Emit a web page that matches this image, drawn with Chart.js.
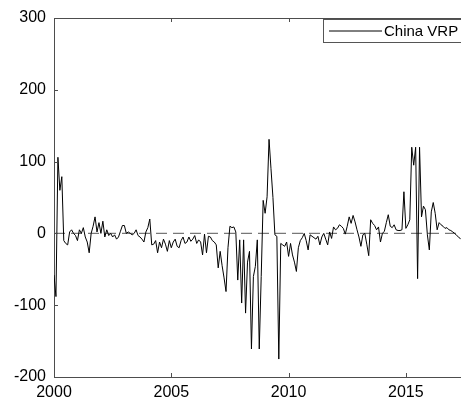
<!DOCTYPE html>
<html>
<head>
<meta charset="utf-8">
<script src="https://cdn.jsdelivr.net/npm/chart.js@4.4.1/dist/chart.umd.min.js"></script>
<style>
  html, body { margin: 0; padding: 0; background: #fff; }
  canvas { display: block; }
</style>
</head>
<body>
<canvas id="chart" width="461" height="402"></canvas>
<script>
// monthly values, first one is Jan 2000
const startYear = 2000;
const vrp = [
  -58, -88, 106, 60, 79, -10, -14, -16, 2, 5, 0, -3,
  -10, 5, 0, 8, -5, -12, -27, 0, 10, 23, 2, 15,
  0, 17, -5, 5, -3, 0, -5, -2, -8, -5, 3, 11,
  11, 0, 2, 0, -2, 0, 5, -3, -5, -8, -12, 2,
  8, 20, -16, -15, -10, -27, -12, -20, -8, -15, -25, -10,
  -20, -12, -8, -18, -20, -10, -5, -14, -12, -5, -11, -8,
  -3, -14, -9, -12, -30, -1, -27, -4, -5, -10, -12, -16,
  -48, -25, -45, -62, -81, -20, 10, 8, 9, 2, -65, -9,
  -97, -9, -111, -40, -25, -161, -60, -46, -9, -161, -60, 46,
  28, 51, 131, 90, 50, -2, -4, -175, -14, -16, -18, -12,
  -32, -14, -30, -40, -53, -20, -10, -6, 0, -10, -23, -2,
  -4, -6, -8, -4, -16, -5, 0, -8, -16, 2, -7, 9,
  5, 7, 12, 10, 7, -1, 10, 23, 14, 25, 16, 5,
  -5, -18, -2, 0, -15, -31, 19, 14, 11, 5, 9, -12,
  0, 3, 15, 26, 10, 8, 12, 5, 4, 4, 5, 58,
  7, 12, 19, 120, 95, 120, -63, 120, 23, 38, 33, -2,
  -23, 30, 43, 28, 5, 15, 12, 10, 7, 8, 5, 4,
  2, 0, -3, -5, -8
];
const seriesName = 'China VRP';
const xTicks = [2000, 2005, 2010, 2015];
const yTicks = [-200, -100, 0, 100, 200, 300];
const xMin = 2000, xMax = 2017.35;
const yMin = -200, yMax = 300;

const FONT = '"Liberation Sans", Arial, Helvetica, sans-serif';
const AXIS = '#4d4d4d';

const points = vrp.map((v, i) => ({ x: startYear + i / 12, y: v }));
const zeroLine = [{ x: xMin, y: 0 }, { x: xMax, y: 0 }];

// box top edge, inward tick marks and the legend box
const frame = {
  id: 'frame',
  afterDraw(chart) {
    const { ctx, chartArea: a, scales: { x, y } } = chart;
    ctx.save();
    ctx.strokeStyle = AXIS;
    ctx.lineWidth = 1;
    ctx.beginPath();
    ctx.moveTo(a.left, a.top + 0.5);
    ctx.lineTo(a.right, a.top + 0.5);
    xTicks.forEach(v => {
      const px = Math.round(x.getPixelForValue(v)) + 0.5;
      ctx.moveTo(px, a.bottom); ctx.lineTo(px, a.bottom - 4);
      ctx.moveTo(px, a.top);    ctx.lineTo(px, a.top + 4);
    });
    yTicks.forEach(v => {
      const py = Math.round(y.getPixelForValue(v)) + 0.5;
      ctx.moveTo(a.left, py); ctx.lineTo(a.left + 4, py);
    });
    ctx.stroke();

    // legend
    const lx = 323.5, ly = 19.5, lh = 23;
    ctx.fillStyle = '#fff';
    ctx.fillRect(lx, ly, 200, lh);
    ctx.strokeStyle = '#555';
    ctx.strokeRect(lx, ly, 200, lh);
    ctx.strokeStyle = '#000';
    ctx.beginPath();
    ctx.moveTo(329, ly + lh / 2);
    ctx.lineTo(382, ly + lh / 2);
    ctx.stroke();
    ctx.fillStyle = '#000';
    ctx.font = '15px ' + FONT;
    ctx.textBaseline = 'middle';
    ctx.fillText(seriesName, 384, ly + lh / 2 + 1);
    ctx.restore();
  }
};

new Chart(document.getElementById('chart'), {
  type: 'line',
  data: {
    datasets: [
      {
        label: seriesName,
        data: points,
        borderColor: '#000',
        borderWidth: 1,
        pointRadius: 0,
        tension: 0,
        fill: false
      },
      {
        label: 'zero',
        data: zeroLine,
        borderColor: '#777',
        borderWidth: 1.3,
        borderDash: [11, 6],
        pointRadius: 0,
        fill: false
      }
    ]
  },
  options: {
    responsive: false,
    animation: false,
    layout: { padding: { top: 18, right: 0, left: 0, bottom: 0 } },
    plugins: { legend: { display: false }, tooltip: { enabled: false } },
    scales: {
      x: {
        type: 'linear',
        min: xMin, max: xMax,
        afterBuildTicks: s => { s.ticks = xTicks.map(v => ({ value: v })); },
        afterFit: s => { s.height = 25; },
        grid: { display: false, drawTicks: false },
        border: { display: true, color: AXIS, width: 1 },
        ticks: {
          color: '#000', padding: 6, maxRotation: 0,
          font: { family: FONT, size: 16 },
          callback: v => String(v)
        }
      },
      y: {
        min: yMin, max: yMax,
        afterBuildTicks: s => { s.ticks = yTicks.map(v => ({ value: v })); },
        afterFit: s => { s.width = 54; },
        grid: { display: false, drawTicks: false },
        border: { display: true, color: AXIS, width: 1 },
        ticks: {
          color: '#000', padding: 8,
          font: { family: FONT, size: 16 },
          callback: v => String(v)
        }
      }
    }
  },
  plugins: [frame]
});
</script>
</body>
</html>
